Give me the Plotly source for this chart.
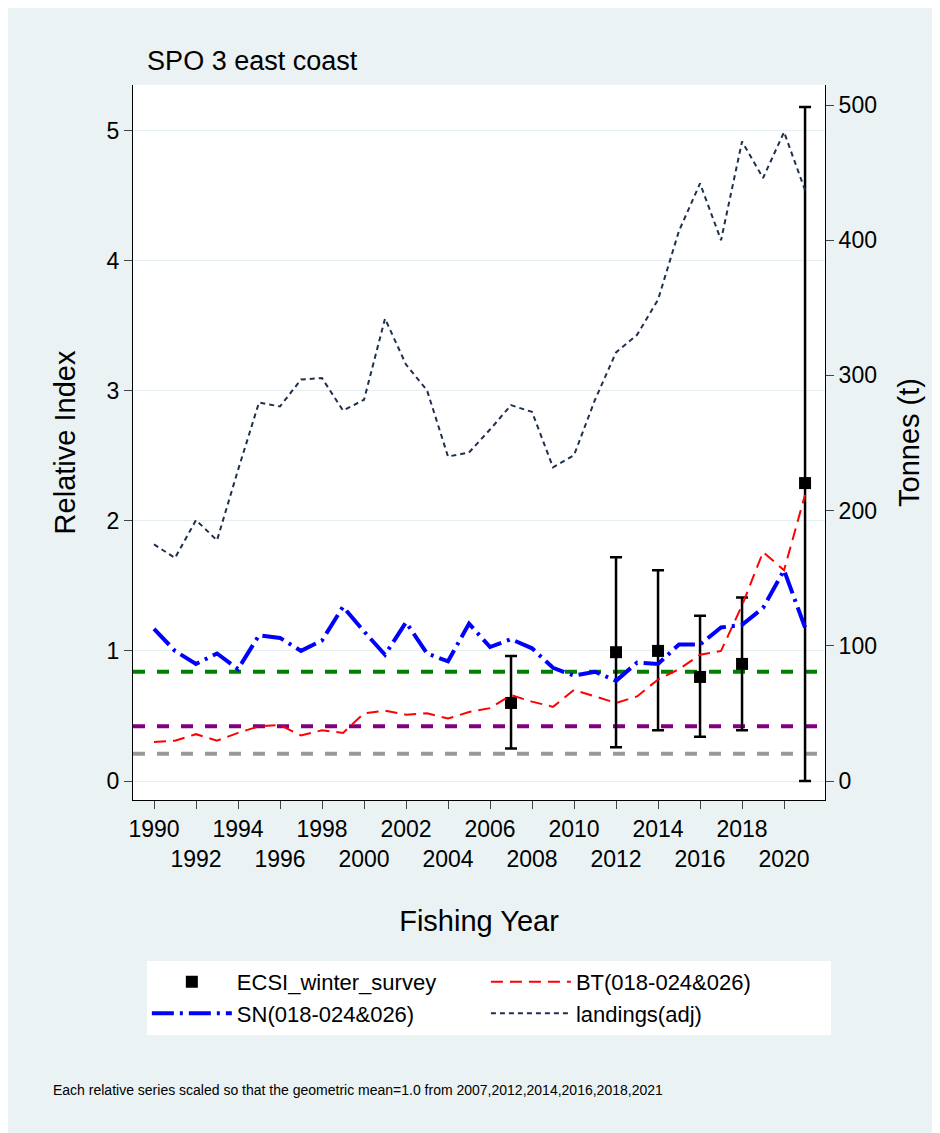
import plotly.graph_objects as go

years = list(range(1990, 2022))
landings = [175,165,193,178,230,280,277,297,298,274,282,342,308,289,240,243,260,278,273,232,241,282,317,330,356,407,442,400,473,446,480,437]
sn = [1.17,1.0,0.9,0.98,0.86,1.12,1.1,1.0,1.08,1.34,1.15,0.97,1.22,0.98,0.92,1.21,1.03,1.09,1.02,0.87,0.81,0.84,0.77,0.91,0.9,1.05,1.05,1.18,1.2,1.33,1.62,1.18]
bt = [0.3,0.31,0.36,0.31,0.37,0.42,0.43,0.35,0.39,0.37,0.52,0.54,0.51,0.52,0.48,0.53,0.56,0.66,0.61,0.57,0.7,0.65,0.6,0.65,0.78,0.86,0.97,1.0,1.35,1.76,1.62,2.2]
surv_years = [2007,2012,2014,2016,2018,2021]
surv = [0.6,0.99,1.0,0.8,0.9,2.29]
surv_lo = [0.25,0.26,0.39,0.34,0.39,0.0]
surv_hi = [0.96,1.72,1.62,1.27,1.41,5.18]
ref_lines = [(0.84,"green"),(0.42,"purple"),(0.21,"#999999")]
tick_years = list(range(1990, 2021, 2))

fig = go.Figure()
for v, c in ref_lines:
    fig.add_trace(go.Scatter(x=[1989,2022], y=[v,v], mode="lines", line=dict(color=c, width=4, dash="dash"), showlegend=False, hoverinfo="skip"))
fig.add_trace(go.Scatter(x=surv_years, y=surv, mode="markers", name="ECSI_winter_survey",
    marker=dict(symbol="square", color="black", size=12),
    error_y=dict(type="data", symmetric=False, array=[h-m for h,m in zip(surv_hi,surv)],
                 arrayminus=[m-l for m,l in zip(surv,surv_lo)], color="black", thickness=2.5, width=6)))
fig.add_trace(go.Scatter(x=years, y=bt, mode="lines", name="BT(018-024&026)", line=dict(color="red", width=2, dash="12px,7px")))
fig.add_trace(go.Scatter(x=years, y=sn, mode="lines", name="SN(018-024&026)", line=dict(color="blue", width=4, dash="22px,6px,3px,6px")))
fig.add_trace(go.Scatter(x=years, y=landings, mode="lines", name="landings(adj)", yaxis="y2", line=dict(color="#1f2f4f", width=2, dash="5px,4px")))

ticktext = [str(y) if (y-1990) % 4 == 0 else "<br>"+str(y) for y in tick_years]
fig.update_layout(
    width=940, height=1133, paper_bgcolor="#eaf2f3", plot_bgcolor="white",
    margin=dict(l=125, r=123, t=77, b=341),
    font=dict(family="Liberation Sans, Arial", size=23, color="black"),
    title=dict(text="SPO 3 east coast", x=0.148, xanchor="left", y=0.962, font=dict(size=27)),
    xaxis=dict(range=[1989.0, 2021.95], tickvals=tick_years, ticktext=ticktext, showgrid=False, tickangle=0,
               automargin=False, ticks="outside", ticklen=8, showline=True, linecolor="black", zeroline=False,
               title=dict(text="Fishing Year", font=dict(size=29), standoff=40)),
    yaxis=dict(range=[-0.146, 5.35], tickvals=[0,1,2,3,4,5], showgrid=True, gridcolor="#e4eef0", automargin=False,
               ticks="outside", ticklen=8, showline=True, linecolor="black", zeroline=False,
               title=dict(text="Relative Index", font=dict(size=29), standoff=22)),
    yaxis2=dict(overlaying="y", side="right", range=[-14.05, 514.8], tickvals=[0,100,200,300,400,500], automargin=False,
                showgrid=False, ticks="outside", ticklen=8, showline=True, linecolor="black", zeroline=False,
                title=dict(text="Tonnes (t)", font=dict(size=29), standoff=22)),
    legend=dict(orientation="h", x=0.02, xanchor="left", y=-0.225, yanchor="top", bgcolor="white",
                entrywidthmode="fraction", entrywidth=0.49, font=dict(size=22), itemwidth=80, borderwidth=0),
    annotations=[dict(text="Each relative series scaled so that the geometric mean=1.0 from 2007,2012,2014,2016,2018,2021",
                      xref="paper", yref="paper", x=-0.118, y=-0.42, xanchor="left", showarrow=False, font=dict(size=14))],
)
fig.write_html("out.html")
